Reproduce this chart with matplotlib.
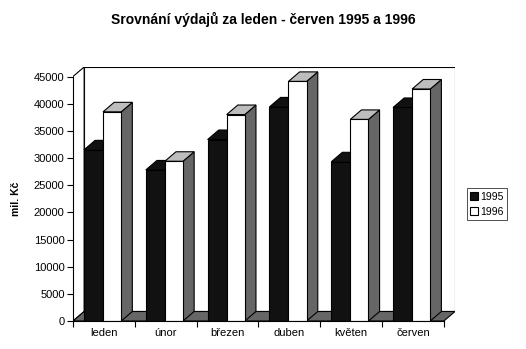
import matplotlib.pyplot as plt
from matplotlib.patches import Polygon, Patch

months = ["leden", "únor", "březen", "duben", "květen", "červen"]
spend_1995 = [31500, 27800, 33400, 39400, 29300, 39300]
spend_1996 = [38500, 29400, 38000, 44100, 37100, 42700]
years = ["1995", "1996"]
y_ticks = list(range(0, 45001, 5000))

plt.rcParams["font.family"] = ["Liberation Sans", "DejaVu Sans"]

DX = 0.18      # depth offset in category units
DY = 1750      # depth offset in value units
YMAX = 45000
N = len(months)

fig = plt.figure(figsize=(5.26, 3.49), dpi=100)
ax = fig.add_axes([73 / 526, 28 / 349, 382 / 526, 254 / 349])
ax.set_xlim(0, N + DX)
ax.set_ylim(0, YMAX + DY)


def poly(pts, fc, z, hatch=None):
    ax.add_patch(Polygon(pts, closed=True, facecolor=fc, edgecolor="black",
                         linewidth=0.8, hatch=hatch, zorder=z))


# walls and floor
poly([(DX, DY), (N + DX, DY), (N + DX, YMAX + DY), (DX, YMAX + DY)], "white", 1)
poly([(0, 0), (DX, DY), (DX, YMAX + DY), (0, YMAX)], "white", 1)
poly([(0, 0), (N, 0), (N + DX, DY), (DX, DY)], "#666666", 2)


def bar3d(x0, x1, h, front, top, side, z):
    poly([(x1, 0), (x1 + DX, DY), (x1 + DX, h + DY), (x1, h)], side, z)
    poly([(x0, h), (x1, h), (x1 + DX, h + DY), (x0 + DX, h + DY)], top, z)
    poly([(x0, 0), (x1, 0), (x1, h), (x0, h)], front, z)


for i in range(N):
    bar3d(i + 0.178, i + 0.486, spend_1995[i], "#111111", "#111111", "#666666", 3 + 2 * i)
    bar3d(i + 0.486, i + 0.78, spend_1996[i], "white", "#bdbdbd", "#666666", 4 + 2 * i)

for s in ["top", "right"]:
    ax.spines[s].set_visible(False)
ax.spines["left"].set_bounds(0, YMAX)
ax.spines["bottom"].set_bounds(0, N)
ax.spines["left"].set_zorder(20)
ax.spines["bottom"].set_zorder(20)

ax.set_yticks(y_ticks)
ax.set_yticklabels([str(v) for v in y_ticks], fontsize=8)
ax.set_xticks(range(N + 1))
ax.set_xticklabels([""] * (N + 1))
ax.set_xticks([i + 0.5 for i in range(N)], minor=True)
ax.set_xticklabels(months, minor=True, fontsize=8)
ax.tick_params(axis="x", which="minor", length=0, pad=5)
ax.tick_params(axis="x", which="major", length=4, direction="out")
ax.tick_params(axis="y", length=4, direction="out", pad=2)

fig.text(0.5, 0.943, "Srovnání výdajů za leden - červen 1995 a 1996",
         ha="center", va="center", fontsize=10, fontweight="bold")
fig.text(16 / 526, 0.43, "mil. Kč", rotation=90, ha="center", va="center",
         fontsize=7.5, fontweight="bold")

handles = [Patch(facecolor="#111111", edgecolor="black", linewidth=0.8),
           Patch(facecolor="white", edgecolor="black", linewidth=0.8)]
leg = fig.legend(handles, years, loc="center left",
                 bbox_to_anchor=(467 / 526, 0.415), fontsize=7.5,
                 frameon=True, fancybox=False, handlelength=0.8, handleheight=0.8,
                 handletextpad=0.2, borderpad=0.3, labelspacing=0.5,
                 borderaxespad=0)
leg.get_frame().set_edgecolor("black")
leg.get_frame().set_linewidth(0.6)

plt.savefig("out.png", dpi=100)
plt.close()
